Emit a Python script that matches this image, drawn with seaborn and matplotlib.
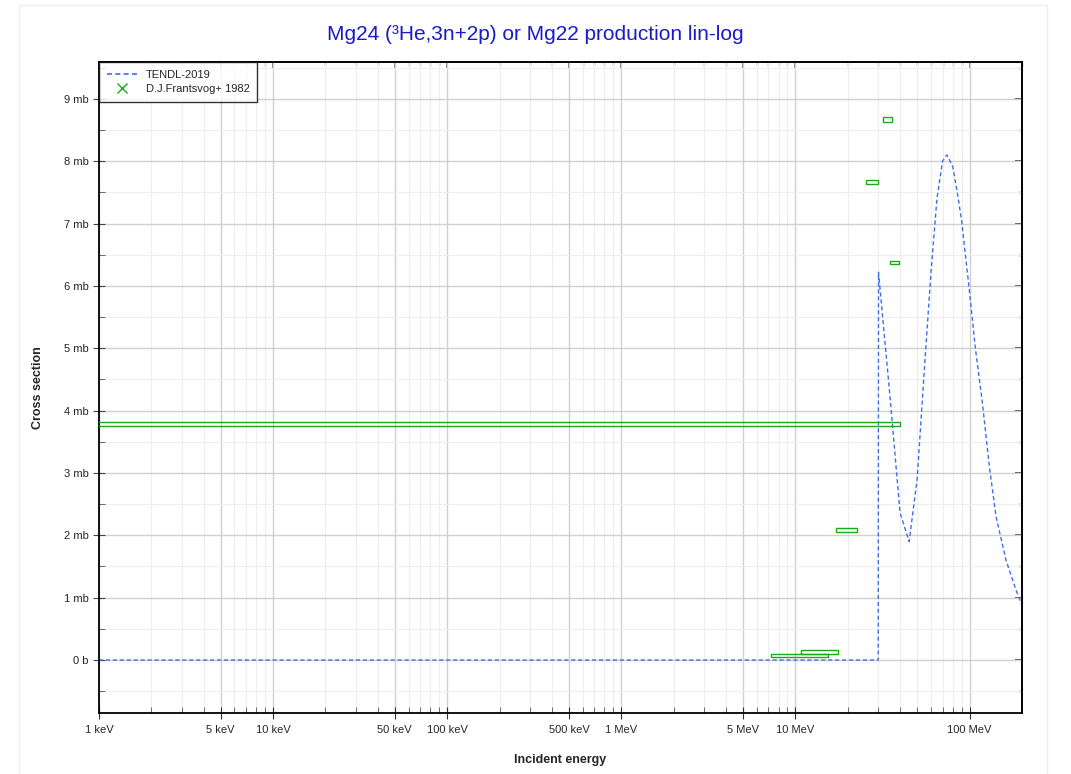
import numpy as np
import matplotlib
matplotlib.use("Agg")
import matplotlib.pyplot as plt
import seaborn as sns
import pandas as pd
from matplotlib.patches import Rectangle
from matplotlib.lines import Line2D
from matplotlib.ticker import FixedLocator, FuncFormatter, MultipleLocator, NullFormatter

# TENDL-2019 evaluation (energy in eV, cross section in mb)
tendl_energy = [1e3, 29.9e6, 30.0e6, 35e6, 39.9e6, 45e6, 50e6, 55e6, 60e6, 65e6, 70e6,
                74e6, 80e6, 85e6, 90e6, 100e6, 108e6, 118e6, 130e6, 142e6, 162e6, 185e6, 200e6]
tendl_xs = [0.0, 0.0, 6.22, 4.2, 2.36, 1.90, 2.9, 4.65, 6.2, 7.4, 8.0,
            8.10, 7.92, 7.5, 7.05, 5.9, 5.0, 4.17, 3.1, 2.3, 1.6, 1.12, 0.88]

# D.J.Frantsvog+ 1982 measurements: energy range (eV), value and error (mb)
exp_e_lo = [1e2, 7.26e6, 10.7e6, 17.15e6, 25.5e6, 31.9e6, 35.0e6]
exp_e_hi = [39.7e6, 15.4e6, 17.6e6, 22.6e6, 29.9e6, 35.9e6, 39.4e6]
exp_xs = [3.78, 0.07, 0.13, 2.08, 7.67, 8.665, 6.375]
exp_dxs = [0.03, 0.027, 0.027, 0.03, 0.03, 0.035, 0.025]

major_e = [1e3, 5e3, 1e4, 5e4, 1e5, 5e5, 1e6, 5e6, 1e7, 1e8]
minor_e = [m * 10 ** d for d in range(3, 9) for m in range(2, 10)]


def energy_label(e, pos=None):
    if e >= 1e6:
        return f"{e / 1e6:g} MeV"
    return f"{e / 1e3:g} keV"


def xs_label(v, pos=None):
    if abs(v) < 1e-9:
        return "0 b"
    return f"{v:g} mb"


sns.set_style("white")
plt.rcParams["font.family"] = ["Liberation Sans", "DejaVu Sans"]

fig = plt.figure(figsize=(10.71, 7.74), dpi=100)
ax = fig.add_axes([0.0924, 0.0788, 0.8618, 0.8411])

df = pd.DataFrame({"energy": tendl_energy, "xs": tendl_xs})
sns.lineplot(data=df, x="energy", y="xs", ax=ax, color="#3f6fe8", lw=1.0,
             linestyle=(0, (3, 2)), sort=False, estimator=None)

for lo, hi, v, dv in zip(exp_e_lo, exp_e_hi, exp_xs, exp_dxs):
    ax.add_patch(Rectangle((lo, v - dv), hi - lo, 2 * dv, fill=False,
                           edgecolor="#1aaa1a", lw=1.0, zorder=3))

ax.set_xscale("log")
ax.set_xlim(1e3, 2e8)
ax.set_ylim(-0.85, 9.59)

ax.xaxis.set_major_locator(FixedLocator(major_e))
ax.xaxis.set_major_formatter(FuncFormatter(energy_label))
ax.xaxis.set_minor_locator(FixedLocator(minor_e))
ax.xaxis.set_minor_formatter(NullFormatter())
ax.yaxis.set_major_locator(MultipleLocator(1))
ax.yaxis.set_minor_locator(MultipleLocator(0.5))
ax.yaxis.set_major_formatter(FuncFormatter(xs_label))

ax.grid(which="major", color="#d0d0d0", lw=1.0)
ax.grid(which="minor", color="#eeeeee", lw=0.8)
ax.set_axisbelow(True)

for s in ax.spines.values():
    s.set_color("black")
    s.set_linewidth(1.3)

ax.tick_params(axis="x", which="major", direction="inout", top=False, bottom=True,
               length=9, labelsize=8, pad=4, color="#333333")
ax.tick_params(axis="x", which="minor", direction="in", top=False, bottom=True,
               length=4, color="#555555")
ax.tick_params(axis="y", which="major", direction="inout", left=True, right=False,
               length=8, labelsize=8, color="#444444")
ax.tick_params(axis="y", which="minor", direction="in", left=True, right=False, length=4,
               color="#555555")

# inward ticks on the top and right frame
top = ax.secondary_xaxis("top")
top.xaxis.set_major_locator(FixedLocator(major_e))
top.xaxis.set_minor_locator(FixedLocator(minor_e))
top.xaxis.set_major_formatter(NullFormatter())
top.xaxis.set_minor_formatter(NullFormatter())
top.tick_params(which="major", direction="in", top=True, length=5, width=1.2, color="#666666")
top.tick_params(which="minor", direction="in", top=True, length=3, width=1.0, color="#777777")
top.spines["top"].set_linewidth(1.3)

right = ax.secondary_yaxis("right")
right.yaxis.set_major_locator(MultipleLocator(1))
right.yaxis.set_minor_locator(MultipleLocator(0.5))
right.yaxis.set_major_formatter(NullFormatter())
right.tick_params(which="major", direction="in", right=True, length=5, width=1.2, color="#333333")
right.tick_params(which="minor", direction="in", right=True, length=3, width=1.0, color="#555555")
right.spines["right"].set_linewidth(1.3)

ax.set_xlabel("Incident energy", fontsize=9, fontweight="bold", labelpad=14)
ax.set_ylabel("Cross section", fontsize=9, fontweight="bold", labelpad=14)
fig.suptitle("Mg24 (³He,3n+2p) or Mg22 production lin-log", color="#1a1acc",
             fontsize=15, y=0.968)

handles = [Line2D([], [], color="#3f6fe8", lw=1.2, linestyle=(0, (3, 2))),
           Line2D([], [], color="#1aaa1a", marker="x", lw=0, markersize=7)]
leg = ax.legend(handles, ["TENDL-2019", "D.J.Frantsvog+ 1982"], loc="upper left",
                borderaxespad=0, fontsize=8, frameon=True, fancybox=False,
                handlelength=2.7, borderpad=0.7, labelspacing=0.4)
leg.get_frame().set_edgecolor("black")
leg.get_frame().set_linewidth(1.0)

fig.patches.append(Rectangle((0.018, -0.01), 0.96, 1.0035, transform=fig.transFigure,
                             fill=False, edgecolor="#eeeeee", lw=1.0))

fig.savefig("out.png", dpi=100)
